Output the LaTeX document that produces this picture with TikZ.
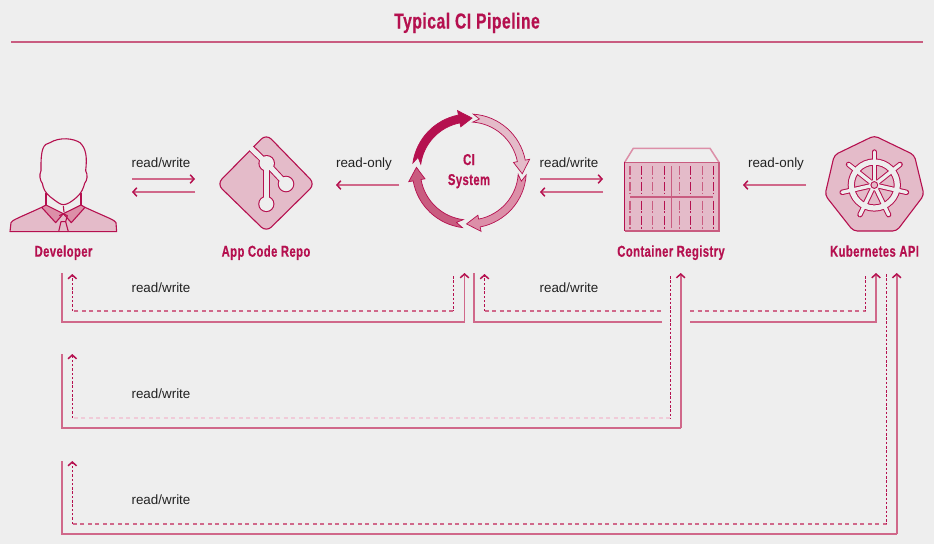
\documentclass[tikz,border=0pt]{standalone}
\usepackage{fontspec}
\setmainfont{Liberation Sans}
\newfontfamily\condfont{Liberation Sans}[FakeStretch=0.72,FakeBold=0.5,LetterSpace=2.5]
\usetikzlibrary{arrows.meta}
\definecolor{bgc}{HTML}{EEEEEE}
\definecolor{crim}{HTML}{B5104F}
\definecolor{midc}{HTML}{D0688A}
\definecolor{softc}{HTML}{E4BBC9}
\definecolor{darkp}{HTML}{DC8FA8}
\definecolor{rosec}{HTML}{C95C80}
\definecolor{palec}{HTML}{F0CBD8}
\definecolor{txt}{HTML}{222222}
\tikzset{
  barb/.style={-{Straight Barb[length=3.8pt,width=8.5pt,line width=1.5pt,color=crim]}},
  shortarrow/.style={barb,draw=midc,line width=1.3pt},
  mainline/.style={barb,draw=midc,line width=1.7pt},
  plainline/.style={draw=midc,line width=1.7pt},
  dashh/.style={draw=midc,line width=1.5pt,dash pattern=on 4pt off 3.5pt},
  dashpale/.style={draw=palec,line width=1.5pt,dash pattern=on 4pt off 3.5pt},
  dashv/.style={draw=crim,line width=1pt,dash pattern=on 2.5pt off 1.8pt},
  dasharrow/.style={barb,dashv},
  caption/.style={font=\condfont\bfseries\fontsize{15.7}{18}\selectfont,text=crim,inner sep=0pt,anchor=base},
  lbl/.style={font=\fontsize{13.4}{16}\selectfont,text=txt,inner sep=0pt,anchor=base},
  iconline/.style={draw=crim,line width=1.1pt,line join=round},
}
\newcommand{\ciarrow}[3]{% tail angle, tip angle, colour
  \pgfmathsetmacro{\ta}{#1}\pgfmathsetmacro{\tb}{#2}
  \pgfmathsetmacro{\hb}{#2+14}
  \pgfmathsetmacro{\nt}{#1-7}
  \filldraw[fill=#3,draw=crim,line width=.7pt,line join=miter]
    (\nt:53pt) -- (\ta:57pt) arc[start angle=\ta,end angle=\hb,radius=57pt]
    -- (\hb:61.5pt) -- (\tb:53pt) -- (\hb:45pt) -- (\hb:49pt)
    arc[start angle=\hb,end angle=\ta,radius=49pt] -- cycle;
}
\begin{document}
\begin{tikzpicture}[x=1pt,y=-1pt]
\useasboundingbox[fill=bgc] (0,0) rectangle (934,544);
% title
\node[font=\condfont\bfseries\fontsize{21.7}{24}\selectfont,text=crim,inner sep=0pt,anchor=base] (title) at (467,28.5) {Typical CI Pipeline};
\coordinate (ruleL) at (11,42); \coordinate (ruleR) at (923,42);
\draw[draw=rosec,line width=1.5pt] (ruleL) -- (ruleR);

% developer icon
\begin{scope}[shift={(0,120)},x=.3333pt,y=-.3333pt]
  \filldraw[fill=softc,iconline] (30,335) -- (33,308) .. controls (36,300) and (60,292) .. (125,262) -- (190,282) -- (255,262) .. controls (320,292) and (345,300) .. (348,308) -- (350,335) -- cycle;
  \filldraw[fill=darkp,iconline] (125,262) -- (138,255) -- (190,281) -- (167,308) -- cycle;
  \filldraw[fill=darkp,iconline] (255,262) -- (243,255) -- (190,281) -- (214,308) -- cycle;
  \draw[iconline] (178,287) -- (190,281) -- (202,287) -- (197,305) -- (205,335);
  \draw[iconline] (197,305) -- (183,305) -- (176,335);
  \draw[iconline] (190,258) -- (192,276);
  \draw[iconline] (138,220) -- (138,255);
  \draw[iconline] (243,220) -- (243,255);
  \draw[iconline] (127,190) .. controls (130,205) and (135,218) .. (150,230) .. controls (170,245) and (180,254) .. (190,254) .. controls (202,254) and (215,245) .. (232,230) .. controls (245,218) and (250,205) .. (254,190) .. controls (262,180) and (264,165) .. (257,152) .. controls (262,110) and (258,85) .. (240,68) .. controls (220,55) and (180,50) .. (150,68) .. controls (130,72) and (122,85) .. (123,152) .. controls (117,165) and (120,182) .. (127,190) -- cycle;
\end{scope}

% git icon
\filldraw[fill=softc,iconline,rounded corners=7pt] (266.3,134) -- (315,184) -- (266.3,232) -- (217,184) -- cycle;
\draw[crim,line width=7pt] (251.5,148.5) -- (266.7,163.3);
\draw[crim,line width=7pt] (266.7,163.3) -- (286,184);
\draw[crim,line width=6.4pt] (266.3,163.3) -- (266.3,204);
\fill[crim] (266.7,163.3) circle[radius=8.3pt];
\fill[crim] (286,184) circle[radius=8.3pt];
\fill[crim] (266.3,204) circle[radius=8.1pt];
\draw[bgc,line width=5pt] (243,140.5) -- (266.7,163.3);
\draw[bgc,line width=5pt] (266.7,163.3) -- (286,184);
\draw[bgc,line width=4.6pt] (266.3,163.3) -- (266.3,204);
\fill[bgc] (266.7,163.3) circle[radius=7.2pt];
\fill[bgc] (286,184) circle[radius=7.2pt];
\fill[bgc] (266.3,204) circle[radius=7pt];

% CI ring
\begin{scope}[shift={(469.3,171)},x=1pt,y=1pt]
  \ciarrow{172}{87}{crim}
  \ciarrow{86}{-3}{softc}
  \ciarrow{-4}{-93}{darkp}
  \ciarrow{-97}{-184}{rosec}
\end{scope}

% registry icon
\begin{scope}[line cap=butt]
  \draw[draw=darkp,line width=1.5pt] (624.7,162.3) -- (633.3,148.3) -- (710,148.3) -- (719,162.3);
  \fill[softc] (624.7,162.3) rectangle (719,231);
  \draw[draw=crim,line width=1.2pt] (624.7,162.3) -- (624.7,231);
  \draw[draw=rosec,line width=1.4pt] (624.7,231) -- (719,231) -- (719,162.3) -- (624.7,162.3);
  \draw[draw=rosec,line width=1.4pt] (630,197) -- (713,197);
  \draw[draw=rosec,line width=1pt] (671.7,166) -- (671.7,228.3);
  \foreach \cx/\cc/\lw in {630/rosec/1.6,641.3/crim/1,652.7/rosec/1.5,664/crim/1,679.3/rosec/1.1,690.7/crim/1,702.3/rosec/1.1,713.3/crim/1}{
    \foreach \ya/\yb in {166/175,176.5/178.5,182/191,192.5/193.5,200.5/209.5,211/213,216/225,226.5/228.5}{
      \draw[draw=\cc,line width=\lw pt] (\cx,\ya) -- (\cx,\yb);
    }
  }
\end{scope}

% kubernetes icon
\filldraw[fill=softc,iconline,rounded corners=4pt] (874.3,135.7) -- (914.3,155) -- (924,195) -- (896.7,231) -- (853.3,231) -- (825,195) -- (834.3,155) -- cycle;
\begin{scope}[shift={(874.3,185)},x=1pt,y=1pt]
  \foreach \a in {90,141.43,192.86,244.29,295.71,347.14,38.57}{
    \draw[crim,line width=5.4pt,line cap=round] (\a:6pt) -- (\a:33pt);
  }
  \draw[crim,line width=7.2pt] (0,0) circle[radius=23pt];
  \draw[bgc,line width=5.2pt] (0,0) circle[radius=23pt];
  \foreach \a in {90,141.43,192.86,244.29,295.71,347.14,38.57}{
    \draw[bgc,line width=3.4pt,line cap=round] (\a:4pt) -- (\a:33pt);
  }
  \fill[bgc] (0,0) circle[radius=5.2pt];
  \filldraw[fill=softc,draw=crim,line width=.9pt] (0,0) circle[radius=3.4pt];
\end{scope}

% captions
\node[caption] (devL) at (63.5,256.7) {Developer};
\node[caption] (gitL) at (266,256.7) {App Code Repo};
\node[caption] (regL) at (671,256.7) {Container Registry};
\node[caption] (k8sL) at (874.5,256.7) {Kubernetes API};
\node[caption] (ciL1) at (469,165) {CI};
\node[caption] (ciL2) at (469,185) {System};

% top row labels and arrows
\node[lbl] (t1) at (161,167.3) {read/write};
\node[lbl] (t2) at (364,167.3) {read-only};
\node[lbl] (t3) at (569,167.3) {read/write};
\node[lbl] (t4) at (776,167.3) {read-only};
\coordinate (a1) at (132,179); \coordinate (a2) at (195,179);
\coordinate (b1) at (195,192); \coordinate (b2) at (132,192);
\coordinate (c1) at (399,185); \coordinate (c2) at (336,185);
\coordinate (d1) at (540,179); \coordinate (d2) at (603,179);
\coordinate (e1) at (603,192); \coordinate (e2) at (540,192);
\coordinate (f1) at (806,185); \coordinate (f2) at (743,185);
\draw[shortarrow] (a1) -- (a2);
\draw[shortarrow] (b1) -- (b2);
\draw[shortarrow] (c1) -- (c2);
\draw[shortarrow] (d1) -- (d2);
\draw[shortarrow] (e1) -- (e2);
\draw[shortarrow] (f1) -- (f2);

% lower labels
\node[lbl] (t5) at (161,292.3) {read/write};
\node[lbl] (t6) at (569,292.3) {read/write};
\node[lbl] (t7) at (161,398.3) {read/write};
\node[lbl] (t8) at (161,504.3) {read/write};

% connector anchors
\coordinate (devA) at (62,273);   \coordinate (devB) at (72.3,274);
\coordinate (devC) at (62,354);   \coordinate (devD) at (72.3,354);
\coordinate (devE) at (62,461);   \coordinate (devF) at (72.3,461);
\coordinate (ciA) at (464.5,273); \coordinate (ciB) at (453.3,276);
\coordinate (ciC) at (474,273);   \coordinate (ciD) at (484.5,274);
\coordinate (regA) at (680.7,273);\coordinate (regB) at (670,276);
\coordinate (k8sA) at (876,273);  \coordinate (k8sB) at (865.5,276);
\coordinate (k8sC) at (896.7,273);\coordinate (k8sD) at (886.7,274);
\coordinate (gapL) at (662,322);  \coordinate (gapR) at (690,322);
\coordinate (gapLd) at (662,311); \coordinate (gapRd) at (690,311);
\coordinate (r1s) at (0,322); \coordinate (r1d) at (0,311);
\coordinate (r2s) at (0,428); \coordinate (r2d) at (0,418);
\coordinate (r3s) at (0,534); \coordinate (r3d) at (0,524);

% developer - CI
\draw[mainline] (devA) -- (devA |- r1s) -- (ciA |- r1s) -- (ciA);
\draw[dashh] (ciB |- r1d) -- (devB |- r1d);
\draw[dashv] (ciB) -- (ciB |- r1d);
\draw[dasharrow] (devB |- r1d) -- (devB);
% CI - registry
\draw[plainline] (ciC) -- (ciC |- r1s) -- (gapL);
\draw[dashh] (ciD |- r1d) -- (gapLd);
\draw[dasharrow] (ciD |- r1d) -- (ciD);
% CI - kubernetes
\draw[mainline] (gapR) -- (k8sA |- r1s) -- (k8sA);
\draw[dashh] (gapRd) -- (k8sB |- r1d);
\draw[dashv] (k8sB) -- (k8sB |- r1d);
% developer - registry
\draw[plainline] (devC) -- (devC |- r2s) -- (regA |- r2s);
\draw[mainline] (regA |- r2s) -- (regA);
\draw[dashpale] (regB |- r2d) -- (devD |- r2d);
\draw[dashv] (regB) -- (regB |- r2d);
\draw[dasharrow] (devD |- r2d) -- (devD);
% developer - kubernetes
\draw[plainline] (devE) -- (devE |- r3s) -- (k8sC |- r3s);
\draw[mainline] (k8sC |- r3s) -- (k8sC);
\draw[dashh] (k8sD |- r3d) -- (devF |- r3d);
\draw[dashv] (k8sD) -- (k8sD |- r3d);
\draw[dasharrow] (devF |- r3d) -- (devF);
\end{tikzpicture}
\end{document}
